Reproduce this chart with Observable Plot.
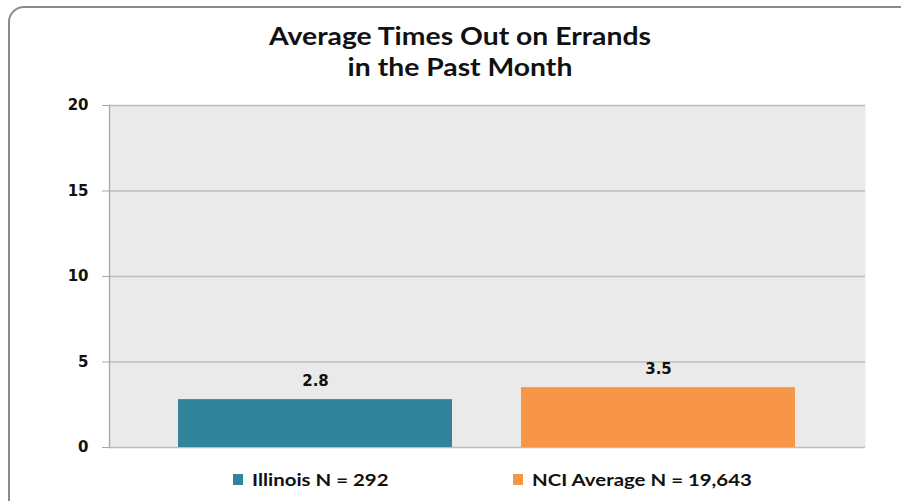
<!DOCTYPE html>
<html>
<head>
<meta charset="utf-8">
<script src="https://cdn.jsdelivr.net/npm/d3@7"></script>
<script src="https://cdn.jsdelivr.net/npm/@observablehq/plot@0.6"></script>
<style>
  html, body { margin: 0; padding: 0; background: #fff; }
  #wrap { position: relative; width: 901px; height: 501px; overflow: hidden; font-family: Lato, "Open Sans", sans-serif; }
  #border { position: absolute; left: 8px; top: 6px; width: 920px; height: 520px; border: 2px solid #8a8a8a; border-radius: 16px; box-sizing: border-box; }
  #title { position: absolute; left: 0; top: 20px; width: 920px; text-align: center; font-weight: 700; font-size: 24px; line-height: 31px; color: #111; transform: scaleX(1.18); transform-origin: 460px 0; }
  #chart { position: absolute; left: 0; top: 0; }
  #legend { position: absolute; top: 466px; left: 0; width: 901px; height: 26px; font-weight: 700; font-size: 17px; color: #111; }
  .item { position: absolute; top: 0; display: flex; align-items: center; height: 26px; white-space: nowrap; }
  .sw { width: 10px; height: 11px; margin-right: 9px; flex: none; }
  .lt { display: inline-block; transform: scaleX(1.2); transform-origin: 0 50%; }
</style>
</head>
<body>
<div id="wrap">
  <div id="border"></div>
  <div id="chart"></div>
  <div id="title">Average Times Out on Errands<br>in the Past Month</div>
  <div id="legend"></div>
</div>
<script>
const categories = ["Illinois N = 292", "NCI Average N = 19,643"];
const values = [2.8, 3.5];
const colors = ["#31849B", "#F79646"];
const yTicks = [0, 5, 10, 15, 20];
const legendX = [233, 513];

const data = categories.map((c, i) => ({category: c, value: values[i]}));

const chart = Plot.plot({
  width: 901,
  height: 470,
  marginLeft: 109,
  marginRight: 36,
  marginTop: 105,
  marginBottom: 23,
  style: {background: "transparent", overflow: "visible"},
  x: {domain: categories, paddingInner: 0.2, paddingOuter: 0.2, axis: null},
  y: {domain: [0, 20], ticks: yTicks},
  color: {domain: categories, range: colors},
  marks: [
    Plot.frame({fill: "#EAEAEA", stroke: null}),
    Plot.gridY(yTicks, {stroke: "#BDBDBD", strokeOpacity: 1, strokeWidth: 1.6}),
    Plot.frame({anchor: "left", stroke: "#A8A8A8", strokeWidth: 1.3}),
    Plot.axisY(yTicks, {tickSize: 7, tickPadding: 14, stroke: "#A8A8A8", fill: "#111", fontSize: 15, fontWeight: "bold", fontFamily: "DejaVu Sans", label: null}),
    Plot.barY(data, {x: "category", y: "value", fill: "category"}),
    Plot.text(data, {x: "category", y: "value", text: d => d.value.toFixed(1), dy: -18, fontSize: 15, fontWeight: "bold", fontFamily: "DejaVu Sans", fill: "#111"})
  ]
});
document.getElementById("chart").appendChild(chart);

const legend = document.getElementById("legend");
categories.forEach((c, i) => {
  const item = document.createElement("div");
  item.className = "item";
  item.style.left = legendX[i] + "px";
  const sw = document.createElement("span");
  sw.className = "sw";
  sw.style.background = colors[i];
  const t = document.createElement("span");
  t.className = "lt";
  t.textContent = c;
  item.appendChild(sw);
  item.appendChild(t);
  legend.appendChild(item);
});
</script>
</body>
</html>
